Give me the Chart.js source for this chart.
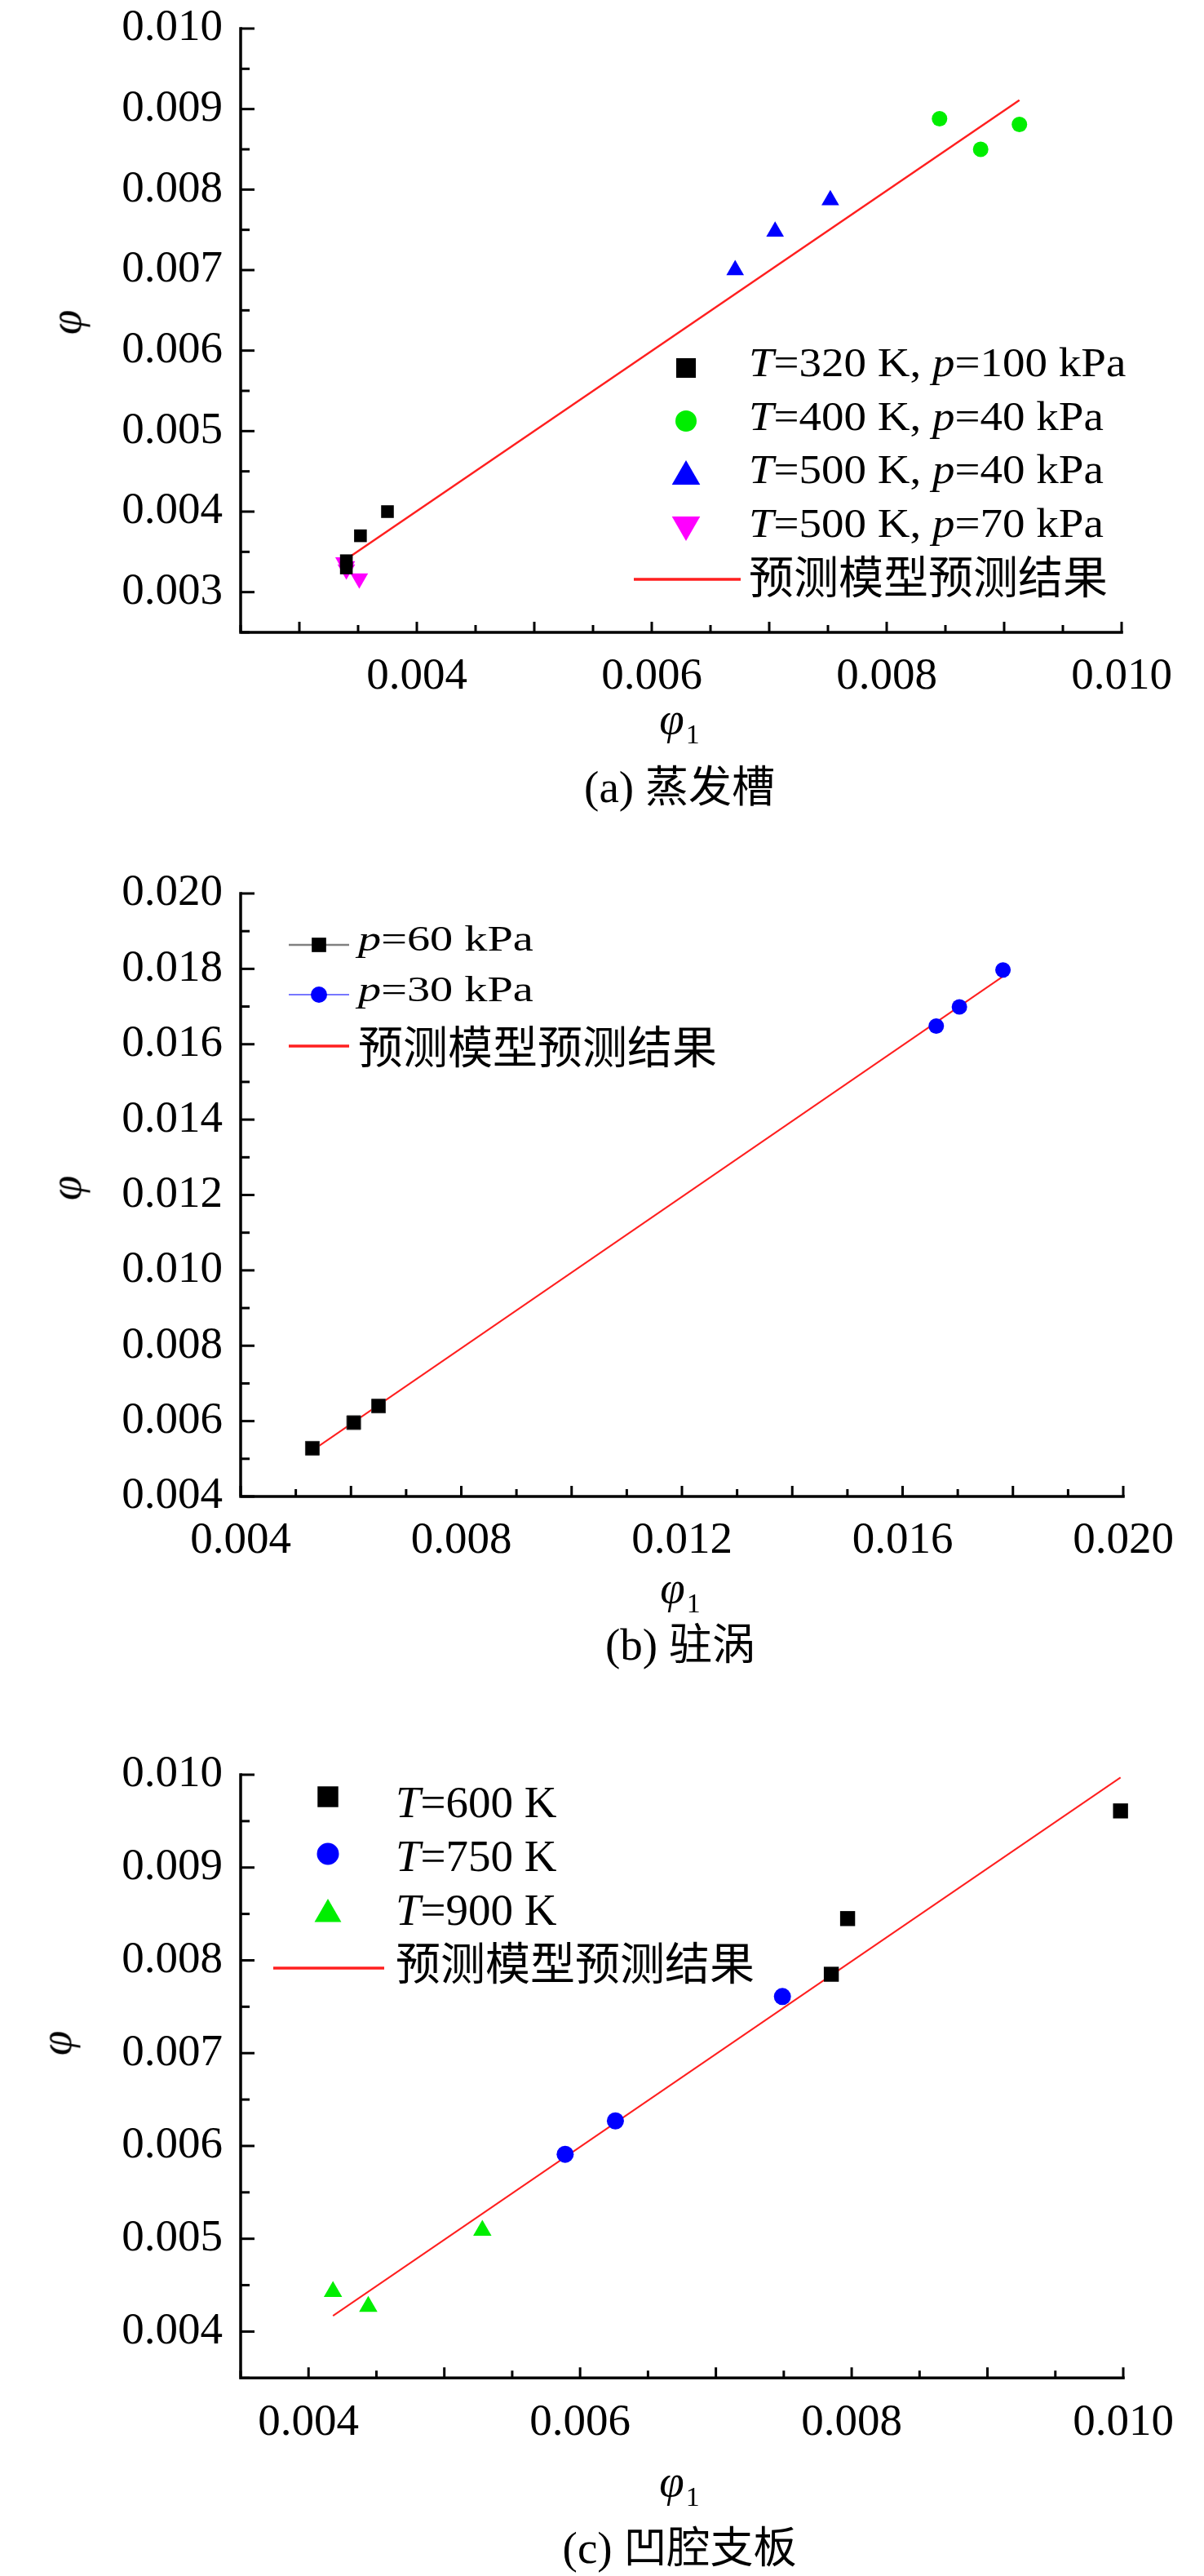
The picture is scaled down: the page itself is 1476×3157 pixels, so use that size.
<!DOCTYPE html>
<html lang="zh-CN">
<head>
<meta charset="utf-8">
<title>φ 与 φ1 对比</title>
<script src="https://cdn.jsdelivr.net/npm/chart.js@4.4.1/dist/chart.umd.min.js"></script>
<style>
  html, body { margin: 0; padding: 0; background: #fff; }
  body { position: relative; width: 1476px; height: 3157px; overflow: hidden; }
  canvas { position: absolute; left: 0; }
  .lbl { position: absolute; font-family: "Liberation Serif", "Times New Roman", serif; font-size: 55px;
         color: #000; white-space: nowrap; line-height: 1; transform: translate(-50%, -50%); }
  .rot { transform: translate(-50%, -50%) rotate(-90deg); }
  .cjk { font-family: "Noto Sans CJK SC", sans-serif; font-size: 53px; }
  .sub { font-size: 34px; position: relative; top: 12px; margin-left: 2px; }
</style>
</head>
<body>
<canvas id="chartA" width="1476" height="900" style="top:-20px"></canvas>
<canvas id="chartB" width="1476" height="890" style="top:1040px"></canvas>
<canvas id="chartC" width="1476" height="890" style="top:2120px"></canvas>

<div class="lbl rot" style="left:80px;top:395px"><i>φ</i></div>
<div class="lbl" style="left:833px;top:880px"><i>φ</i><span class="sub">1</span></div>
<div class="lbl" style="left:833px;top:963px">(a) <span class="cjk">蒸发槽</span></div>

<div class="lbl rot" style="left:80px;top:1456px"><i>φ</i></div>
<div class="lbl" style="left:834px;top:1945px"><i>φ</i><span class="sub">1</span></div>
<div class="lbl" style="left:834px;top:2014px">(b) <span class="cjk">驻涡</span></div>

<div class="lbl rot" style="left:68px;top:2504px"><i>φ</i></div>
<div class="lbl" style="left:833px;top:3040px"><i>φ</i><span class="sub">1</span></div>
<div class="lbl" style="left:833px;top:3121px">(c) <span class="cjk">凹腔支板</span></div>

<script>
// ---- (a) 蒸发槽 ----
const a320X = [0.00340, 0.00340, 0.00352, 0.00375];
const a320Y = [0.00339, 0.00330, 0.00370, 0.00400];
const a400X = [0.00845, 0.00880, 0.00913];
const a400Y = [0.00888, 0.00850, 0.00881];
const a500X = [0.00671, 0.00705, 0.00752];
const a500Y = [0.00700, 0.00748, 0.00787];
const a570X = [0.00338, 0.00340, 0.00340, 0.00351];
const a570Y = [0.00337, 0.00332, 0.00328, 0.00317];
const aFitX = [0.00340, 0.00913];
const aFitY = [0.00341, 0.00911];
const aXLabels = [0.004, 0.006, 0.008, 0.010];
const aYLabels = [0.003, 0.004, 0.005, 0.006, 0.007, 0.008, 0.009, 0.010];

// ---- (b) 驻涡 ----
const b60X = [0.00530, 0.00605, 0.00650];
const b60Y = [0.00528, 0.00596, 0.00640];
const b30X = [0.01661, 0.01703, 0.01782];
const b30Y = [0.01648, 0.01699, 0.01797];
const bFitX = [0.00530, 0.01782];
const bFitY = [0.00522, 0.01780];
const bXLabels = [0.004, 0.008, 0.012, 0.016, 0.020];
const bYLabels = [0.004, 0.006, 0.008, 0.010, 0.012, 0.014, 0.016, 0.018, 0.020];

// ---- (c) 凹腔支板 ----
const c600X = [0.00998, 0.00797, 0.00785];
const c600Y = [0.00961, 0.00845, 0.00785];
const c750X = [0.00749, 0.00626, 0.00589];
const c750Y = [0.00761, 0.00627, 0.00591];
const c900X = [0.00418, 0.00444, 0.00528];
const c900Y = [0.00443, 0.00427, 0.00509];
const cFitX = [0.00418, 0.00998];
const cFitY = [0.00417, 0.00997];
const cXLabels = [0.004, 0.006, 0.008, 0.010];
const cYLabels = [0.004, 0.005, 0.006, 0.007, 0.008, 0.009, 0.010];

const FIT_LABEL = '预测模型预测结果';
const RED = '#ff1f1f';

function pts(xs, ys) {
    return xs.map((x, i) => ({ x: x, y: ys[i] }));
}

function onList(list, v) {
    return list.some(l => Math.abs(l - v) < 1e-9);
}

function isMultiple(v, step) {
    const r = v / step;
    return Math.abs(r - Math.round(r)) < 1e-6;
}

function axis(min, max, step, labels, fit) {
    return {
        type: 'linear',
        min: min,
        max: max,
        grid: { display: false, drawTicks: false },
        border: { display: false },
        ticks: {
            stepSize: step,
            autoSkip: false,
            maxRotation: 0,
            padding: 22,
            color: '#000',
            font: { family: 'Liberation Serif', size: 55 },
            callback: v => onList(labels, v) ? v.toFixed(3) : ''
        },
        afterFit: fit
    };
}

function marks(label, xs, ys, style, color, radius, extra) {
    return Object.assign({
        label: label,
        data: pts(xs, ys),
        showLine: false,
        pointStyle: style,
        pointRadius: radius,
        pointHoverRadius: radius,
        pointBackgroundColor: color,
        pointBorderColor: color,
        pointBorderWidth: 0,
        backgroundColor: color,
        clip: false
    }, extra || {});
}

function fitLine(xs, ys, width) {
    return {
        label: FIT_LABEL,
        data: pts(xs, ys),
        showLine: true,
        borderColor: RED,
        borderWidth: width,
        pointRadius: 0,
        pointHoverRadius: 0,
        legendLine: { color: RED, width: 3.5 },
        clip: false
    };
}

// axis lines and inward ticks
const frameTicks = {
    id: 'frameTicks',
    beforeDatasetsDraw(chart, args, o) {
        const ctx = chart.ctx;
        const area = chart.chartArea;
        const xs = chart.scales.x, ys = chart.scales.y;
        ctx.save();
        ctx.strokeStyle = '#000';
        ctx.lineCap = 'butt';
        ctx.lineWidth = 3;
        xs.ticks.forEach(t => {
            const px = xs.getPixelForValue(t.value);
            const len = isMultiple(t.value, o.xMajor) ? 13 : 9;
            ctx.beginPath();
            ctx.moveTo(px, area.bottom);
            ctx.lineTo(px, area.bottom - len);
            ctx.stroke();
        });
        ys.ticks.forEach(t => {
            const py = ys.getPixelForValue(t.value);
            const len = isMultiple(t.value, o.yMajor) ? 17 : 11;
            ctx.beginPath();
            ctx.moveTo(area.left, py);
            ctx.lineTo(area.left + len, py);
            ctx.stroke();
        });
        ctx.lineWidth = 3.5;
        ctx.lineCap = 'square';
        ctx.beginPath();
        ctx.moveTo(area.left, area.top);
        ctx.lineTo(area.left, area.bottom);
        ctx.lineTo(area.right, area.bottom);
        ctx.stroke();
        ctx.restore();
    }
};

function drawRich(ctx, text, x, y, size, sx) {
    const cjk = /[\u4e00-\u9fff]/.test(text);
    ctx.save();
    ctx.translate(x, y);
    ctx.textBaseline = 'alphabetic';
    ctx.textAlign = 'left';
    ctx.fillStyle = '#000';
    if (cjk) {
        ctx.font = '55px "Noto Sans CJK SC"';
        ctx.fillText(text, 0, 0);
    } else {
        ctx.scale(sx, 1);
        let cx = 0;
        text.split('*').forEach((part, k) => {
            if (!part) return;
            ctx.font = (k % 2 ? 'italic ' : '') + size + 'px "Liberation Serif"';
            ctx.fillText(part, cx, 0);
            cx += ctx.measureText(part).width;
        });
    }
    ctx.restore();
}

// legend drawn inside the plot area
const insideLegend = {
    id: 'insideLegend',
    afterDatasetsDraw(chart, args, o) {
        const ctx = chart.ctx;
        chart.data.datasets.forEach((ds, i) => {
            const row = o.rows[i];
            const y = row.sym - o.top;
            ctx.save();
            if (ds.legendLine) {
                ctx.strokeStyle = ds.legendLine.color;
                ctx.lineWidth = ds.legendLine.width;
                ctx.beginPath();
                ctx.moveTo(o.lineFrom, y);
                ctx.lineTo(o.lineTo, y);
                ctx.stroke();
            }
            if (ds.pointRadius > 0) {
                ctx.fillStyle = ds.pointBackgroundColor;
                Chart.helpers.drawPoint(ctx, {
                    pointStyle: ds.pointStyle,
                    radius: o.symR[i],
                    rotation: ds.pointRotation || 0,
                    borderWidth: 0
                }, o.symX, y);
            }
            ctx.restore();
            drawRich(ctx, ds.label, o.textX, row.base - o.top, o.size, o.sx);
        });
    }
};

function make(id, pageTop, height, area, xAxis, yAxis, datasets, ticks, legend) {
    const xa = xAxis, ya = yAxis;
    xa.afterFit = s => { s.height = height - (area.bottom - pageTop); };
    ya.afterFit = s => { s.width = area.left; };
    legend.top = pageTop;
    return new Chart(document.getElementById(id), {
        type: 'scatter',
        data: { datasets: datasets },
        options: {
            responsive: false,
            animation: false,
            devicePixelRatio: 1,
            layout: { padding: { left: 0, top: area.top - pageTop, right: 1476 - area.right, bottom: 0 } },
            scales: { x: xa, y: ya },
            plugins: {
                legend: { display: false },
                tooltip: { enabled: false },
                frameTicks: ticks,
                insideLegend: legend
            }
        },
        plugins: [frameTicks, insideLegend]
    });
}

// (a)
make('chartA', -20, 900,
    { left: 295, right: 1375, top: 26.5, bottom: 775 },
    axis(0.0025, 0.010, 0.0005, aXLabels),
    axis(0.0025, 0.010, 0.0005, aYLabels),
    [
        marks('*T*=320 K, *p*=100 kPa', a320X, a320Y, 'rect', '#000000', 11),
        marks('*T*=400 K, *p*=40 kPa', a400X, a400Y, 'circle', '#00ee00', 9.5),
        marks('*T*=500 K, *p*=40 kPa', a500X, a500Y, 'triangle', '#0000ff', 12.5),
        marks('*T*=500 K, *p*=70 kPa', a570X, a570Y, 'triangle', '#ff00ff', 12.5, { pointRotation: 180 }),
        fitLine(aFitX, aFitY, 2.5)
    ],
    { xMajor: 0.001, yMajor: 0.001 },
    {
        symX: 841, textX: 918, lineFrom: 777, lineTo: 908, size: 50, sx: 1.1,
        symR: [17, 13, 20, 20, 0],
        rows: [
            { sym: 451, base: 461 }, { sym: 516, base: 527 }, { sym: 584, base: 592 },
            { sym: 643, base: 658 }, { sym: 710, base: 727 }
        ]
    });

// (b)
make('chartB', 1040, 890,
    { left: 295, right: 1377, top: 1081.6, bottom: 1834 },
    axis(0.004, 0.020, 0.001, bXLabels),
    axis(0.004, 0.020, 0.001, bYLabels),
    [
        marks('*p*=60 kPa', b60X, b60Y, 'rect', '#000000', 12,
            { pointBorderColor: '#333333', pointBorderWidth: 1, legendLine: { color: '#808080', width: 2.5 } }),
        marks('*p*=30 kPa', b30X, b30Y, 'circle', '#0000ff', 9.5,
            { legendLine: { color: '#4a4aff', width: 1.5 } }),
        fitLine(bFitX, bFitY, 2)
    ],
    { xMajor: 0.002, yMajor: 0.002 },
    {
        symX: 391, textX: 439, lineFrom: 354, lineTo: 428, size: 44, sx: 1.28,
        symR: [12.5, 10, 0],
        rows: [{ sym: 1158, base: 1165 }, { sym: 1219, base: 1227 }, { sym: 1282, base: 1303 }]
    });

// (c)
make('chartC', 2120, 890,
    { left: 295, right: 1377, top: 2162, bottom: 2914.3 },
    axis(0.0035, 0.010, 0.0005, cXLabels),
    axis(0.0035, 0.010, 0.0005, cYLabels),
    [
        marks('*T*=600 K', c600X, c600Y, 'rect', '#000000', 13),
        marks('*T*=750 K', c750X, c750Y, 'circle', '#0000ff', 10.5),
        marks('*T*=900 K', c900X, c900Y, 'triangle', '#00ee00', 13),
        fitLine(cFitX, cFitY, 2)
    ],
    { xMajor: 0.001, yMajor: 0.001 },
    {
        symX: 402, textX: 485, lineFrom: 335, lineTo: 471, size: 55, sx: 1.0,
        symR: [18, 13.5, 19, 0],
        rows: [
            { sym: 2202, base: 2227 }, { sym: 2272, base: 2293 }, { sym: 2346, base: 2359 },
            { sym: 2412, base: 2426 }
        ]
    });
</script>
</body>
</html>
